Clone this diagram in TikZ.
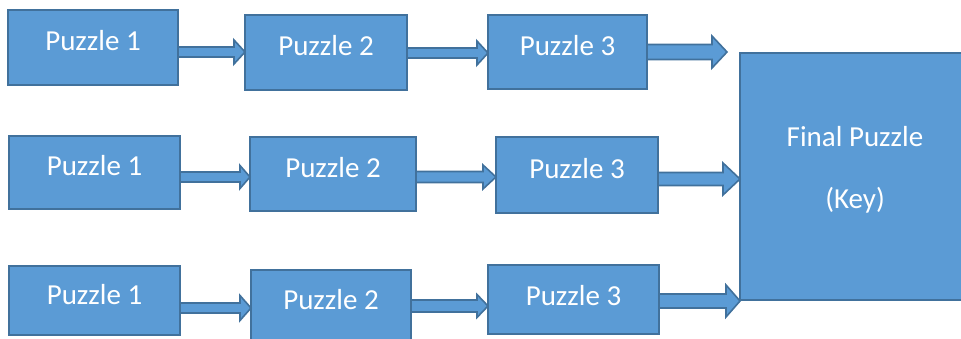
\documentclass[tikz,border=0pt]{standalone}
\usepackage{fontspec}
\setmainfont{Carlito}
\usetikzlibrary{calc}
\definecolor{boxfill}{HTML}{5B9BD5}
\definecolor{boxline}{HTML}{41719C}
\tikzset{
  pbox/.style={draw=boxline, fill=boxfill, line width=2pt, inner sep=0pt, outer sep=0pt, rectangle},
  txt/.style={text=white, font=\fontsize{29}{35}\selectfont, inner sep=0pt, anchor=base},
  arr/.style={draw=boxline, fill=boxfill, line width=1.6pt, line join=miter}
}
% #1 from node, #2 to point, #3 y, #4 shaft half, #5 head half, #6 head length
\newcommand\barrow[6]{%
  \filldraw[arr] let \p1=(#1.east |- 0,#3), \p2=(#2 |- 0,#3) in
    ({\x1},{\y1+#4pt}) -- ({\x2-#6pt},{\y1+#4pt}) -- ({\x2-#6pt},{\y1+#5pt}) --
    (\p2) -- ({\x2-#6pt},{\y1-#5pt}) -- ({\x2-#6pt},{\y1-#4pt}) -- ({\x1},{\y1-#4pt}) -- cycle;}
\begin{document}
\begin{tikzpicture}[x=1pt,y=-1pt]
\useasboundingbox (0,0) rectangle (961,339);
\begin{scope}
\clip (0,0) rectangle (961,339);
% row 1
\node[pbox, minimum width=170, minimum height=75] (a1) at (93,47.5) {};
\node[pbox, minimum width=162, minimum height=75] (a2) at (326,52.5) {};
\node[pbox, minimum width=159, minimum height=74] (a3) at (567.5,52) {};
% row 2
\node[pbox, minimum width=171, minimum height=73] (b1) at (94.5,172.5) {};
\node[pbox, minimum width=166, minimum height=74] (b2) at (333,174) {};
\node[pbox, minimum width=162, minimum height=76] (b3) at (577,175) {};
% row 3
\node[pbox, minimum width=171, minimum height=69] (c1) at (94.5,300.5) {};
\node[pbox, minimum width=160, minimum height=72] (c2) at (331,306) {};
\node[pbox, minimum width=171, minimum height=69] (c3) at (573.5,299.5) {};
% final
\node[pbox, minimum width=230, minimum height=247] (f) at (855,176.5) {};
\end{scope}
% labels
\node[txt, yshift=-3.5pt] (ta1) at (a1.center) {Puzzle 1};
\node[txt, yshift=-3.5pt] (ta2) at (a2.center) {Puzzle 2};
\node[txt, yshift=-3.5pt] (ta3) at (a3.center) {Puzzle 3};
\node[txt, yshift=-3.5pt] (tb1) at (b1.center) {Puzzle 1};
\node[txt, yshift=-3.5pt] (tb2) at (b2.center) {Puzzle 2};
\node[txt, yshift=-3.5pt] (tb3) at (b3.center) {Puzzle 3};
\node[txt, yshift=-3.5pt] (tc1) at (c1.center) {Puzzle 1};
\node[txt, yshift=-3.5pt] (tc2) at (c2.center) {Puzzle 2};
\node[txt, yshift=-5.5pt] (tc3) at (c3.center) {Puzzle 3};
\node[txt, yshift=29.5pt] (tf1) at (f.center) {Final Puzzle};
\node[txt, yshift=-31.5pt] (tf2) at (f.center) {(Key)};
% arrows
\coordinate (e1) at (727,52);
\barrow{a1}{a2.west}{52}{5}{12}{11}
\barrow{a2}{a3.west}{53}{5}{12}{11}
\barrow{a3}{e1}{52}{7.5}{16}{15}
\barrow{b1}{b2.west}{177}{5}{11.5}{10}
\barrow{b2}{b3.west}{177}{5.5}{12}{13}
\barrow{b3}{f.west}{179}{6.5}{16}{17}
\barrow{c1}{c2.west}{308}{5}{12.5}{11}
\barrow{c2}{c3.west}{306}{6}{11.5}{11}
\barrow{c3}{f.west}{301}{7}{16}{14}
\end{tikzpicture}
\end{document}
